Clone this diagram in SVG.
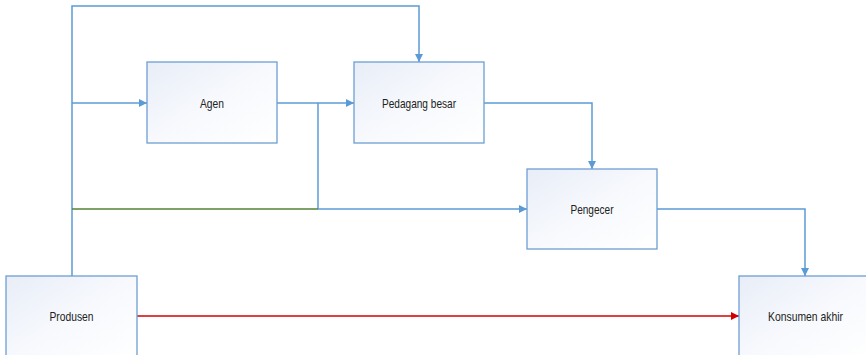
<svg xmlns="http://www.w3.org/2000/svg" width="866" height="355" viewBox="0 0 866 355">
<defs>
<linearGradient id="g" x1="0" y1="0" x2="1" y2="1">
<stop offset="0" stop-color="#e8edf7"/>
<stop offset="0.5" stop-color="#f7f9fd"/>
<stop offset="1" stop-color="#ffffff"/>
</linearGradient>
<marker id="ab" viewBox="0 0 10 10" refX="10" refY="5" markerWidth="8" markerHeight="8" markerUnits="userSpaceOnUse" orient="auto">
<path d="M0,0 L10,5 L0,10 Z" fill="#5b9bd5"/>
</marker>
<marker id="ar" viewBox="0 0 10 10" refX="10" refY="5" markerWidth="8" markerHeight="8" markerUnits="userSpaceOnUse" orient="auto">
<path d="M0,0 L10,5 L0,10 Z" fill="#d00000"/>
</marker>
</defs>
<style>
.box{fill:url(#g);stroke:#6d9fd3;stroke-width:1.3}
.lbl{font-family:"Liberation Sans",Arial,sans-serif;font-size:13px;fill:#222;text-anchor:middle}
.c{fill:none;stroke:#5b9bd5;stroke-width:1.5}
</style>
<g id="connectors">
<path class="c" d="M72,276 V6 H419 V62" marker-end="url(#ab)"/>
<path class="c" d="M72,103 H147" marker-end="url(#ab)"/>
<path class="c" d="M277,103 H354" marker-end="url(#ab)"/>
<path class="c" d="M318,103 V209"/>
<path d="M72,209 H318" fill="none" stroke="#548235" stroke-width="1.5"/>
<path class="c" d="M318,209 H527" marker-end="url(#ab)"/>
<path class="c" d="M484,103 H592 V169" marker-end="url(#ab)"/>
<path class="c" d="M657,209 H805 V276" marker-end="url(#ab)"/>
<path d="M137,316 H739" fill="none" stroke="#d00000" stroke-width="1.5" marker-end="url(#ar)"/>
</g>
<g id="agen">
<rect class="box" x="147" y="62" width="130" height="81"/>
<text class="lbl" x="212" y="107.5" textLength="24" lengthAdjust="spacingAndGlyphs">Agen</text>
</g>
<g id="pedagang-besar">
<rect class="box" x="354" y="62" width="130" height="81"/>
<text class="lbl" x="419" y="107.5" textLength="74" lengthAdjust="spacingAndGlyphs">Pedagang besar</text>
</g>
<g id="pengecer">
<rect class="box" x="527" y="169" width="130" height="80"/>
<text class="lbl" x="592" y="213.5" textLength="43" lengthAdjust="spacingAndGlyphs">Pengecer</text>
</g>
<g id="produsen">
<rect class="box" x="6" y="276" width="131" height="85"/>
<text class="lbl" x="71.5" y="320.5" textLength="44" lengthAdjust="spacingAndGlyphs">Produsen</text>
</g>
<g id="konsumen-akhir">
<rect class="box" x="739" y="276" width="131" height="85"/>
<text class="lbl" x="805.5" y="320.5" textLength="75" lengthAdjust="spacingAndGlyphs">Konsumen akhir</text>
</g>
</svg>
